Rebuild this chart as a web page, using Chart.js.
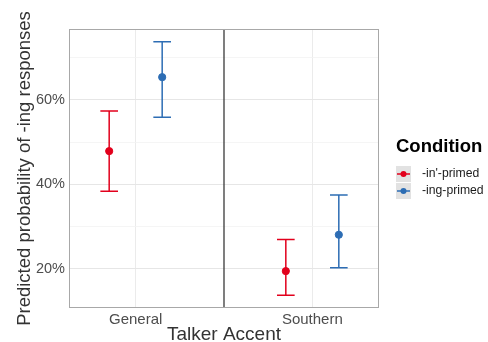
<!DOCTYPE html>
<html>
<head>
<meta charset="utf-8">
<script src="https://cdn.jsdelivr.net/npm/chart.js@4"></script>
<style>
  html, body { margin: 0; padding: 0; background: #fff; }
  #wrap { width: 488px; height: 342px; }
</style>
</head>
<body>
<div id="wrap"><canvas id="pred-chart"></canvas></div>
<script>
// values (percent)
const categories = ['General', 'Southern'];
const conditions = ["-in'-primed", '-ing-primed'];
const inPrimed = [47.9, 19.5];
const inLow = [38.4, 13.8];
const inHigh = [57.4, 27.0];
const ingPrimed = [65.4, 28.1];
const ingLow = [55.9, 20.3];
const ingHigh = [73.8, 37.5];
const yTicks = [20, 30, 40, 50, 60, 70];
const yLabelled = [20, 40, 60];
const dividerAt = 1.5;

const colors = ['#E2001C', '#2D6DB4'];
const dodge = 0.15;

function points(vals, lo, hi, off) {
    return vals.map((v, i) => ({ x: i + 1 + off, y: v, lo: lo[i], hi: hi[i] }));
}

const errorBars = {
    id: 'errorBars',
    beforeDatasetsDraw(chart) {
        const ctx = chart.ctx, xs = chart.scales.x, ys = chart.scales.y;
        const area = chart.chartArea;
        // vertical divider between the accents
        ctx.save();
        ctx.strokeStyle = '#3a3a3a';
        ctx.lineWidth = 1.3;
        const vx = xs.getPixelForValue(dividerAt);
        ctx.beginPath();
        ctx.moveTo(vx, area.top);
        ctx.lineTo(vx, area.bottom);
        ctx.stroke();
        chart.data.datasets.forEach(ds => {
            ctx.strokeStyle = ds.borderColor;
            ctx.lineWidth = 1.5;
            ds.data.forEach(p => {
                const px = xs.getPixelForValue(p.x);
                const cap = xs.getPixelForValue(p.x + 0.05) - px;
                const yl = ys.getPixelForValue(p.lo), yh = ys.getPixelForValue(p.hi);
                ctx.beginPath();
                ctx.moveTo(px, yl); ctx.lineTo(px, yh);
                ctx.moveTo(px - cap, yl); ctx.lineTo(px + cap, yl);
                ctx.moveTo(px - cap, yh); ctx.lineTo(px + cap, yh);
                ctx.stroke();
            });
        });
        ctx.restore();
    },
    afterDraw(chart) {
        const ctx = chart.ctx, area = chart.chartArea;
        ctx.save();
        // panel border
        ctx.strokeStyle = '#a8a8a8';
        ctx.lineWidth = 1;
        ctx.strokeRect(area.left + 0.5, area.top + 0.5, area.right - area.left - 1, area.bottom - area.top - 1);
        // legend
        ctx.fillStyle = '#000';
        ctx.font = 'bold 18.5px "Liberation Sans", Arial, sans-serif';
        ctx.textBaseline = 'middle';
        ctx.textAlign = 'left';
        ctx.fillText('Condition', 396, 147);
        chart.data.datasets.forEach((ds, i) => {
            const top = 166 + i * 17;
            ctx.fillStyle = '#e2e2e2';
            ctx.fillRect(396, top, 15, 16);
            ctx.strokeStyle = ds.borderColor;
            ctx.lineWidth = 1.5;
            ctx.beginPath();
            ctx.moveTo(397, top + 8); ctx.lineTo(410, top + 8);
            ctx.stroke();
            ctx.fillStyle = ds.backgroundColor;
            ctx.beginPath();
            ctx.arc(403.5, top + 8, 3, 0, Math.PI * 2);
            ctx.fill();
            ctx.fillStyle = '#1a1a1a';
            ctx.font = '12.2px "Liberation Sans", Arial, sans-serif';
            ctx.fillText(ds.label, 422, top + 8);
        });
        ctx.restore();
    }
};

new Chart(document.getElementById('pred-chart'), {
    type: 'scatter',
    data: {
        datasets: [{
            label: conditions[0],
            data: points(inPrimed, inLow, inHigh, -dodge),
            borderColor: colors[0],
            backgroundColor: colors[0],
            pointRadius: 3.6,
            pointHoverRadius: 3.6
        }, {
            label: conditions[1],
            data: points(ingPrimed, ingLow, ingHigh, dodge),
            borderColor: colors[1],
            backgroundColor: colors[1],
            pointRadius: 3.6,
            pointHoverRadius: 3.6
        }]
    },
    options: {
        responsive: true,
        maintainAspectRatio: false,
        animation: false,
        layout: { padding: { left: 0, top: 29, right: 109, bottom: 0 } },
        plugins: {
            legend: { display: false },
            tooltip: { enabled: false }
        },
        scales: {
            x: {
                type: 'linear',
                min: 0.6225,
                max: 2.3775,
                afterBuildTicks: s => { s.ticks = categories.map((c, i) => ({ value: i + 1 })); },
                afterFit: s => { s.height = 34; },
                grid: { color: '#ebebeb', lineWidth: 1, drawTicks: false },
                border: { display: false },
                ticks: {
                    padding: 3,
                    color: '#4d4d4d',
                    font: { size: 15, family: '"Liberation Sans", Arial, sans-serif' },
                    callback: v => categories[Math.round(v) - 1]
                },
                title: {
                    display: true,
                    text: 'Talker Accent',
                    color: '#333',
                    padding: 0,
                    font: { size: 19, lineHeight: 0.75, family: '"Liberation Sans", Arial, sans-serif' }
                }
            },
            y: {
                min: 10.77,
                max: 76.8,
                afterBuildTicks: s => { s.ticks = yTicks.map(v => ({ value: v })); },
                afterFit: s => { s.width = 69; },
                grid: {
                    drawTicks: false,
                    color: c => yLabelled.includes(c.tick.value) ? '#e6e6e6' : '#f3f3f3',
                    lineWidth: c => yLabelled.includes(c.tick.value) ? 1.1 : 0.8
                },
                border: { display: false },
                ticks: {
                    padding: 4,
                    color: '#4d4d4d',
                    font: { size: 14.5, family: '"Liberation Sans", Arial, sans-serif' },
                    callback: v => yLabelled.includes(v) ? v + '%' : ''
                },
                title: {
                    display: true,
                    text: 'Predicted probability of -ing responses',
                    color: '#333',
                    padding: { top: 14, bottom: 0 },
                    font: { size: 18.5, family: '"Liberation Sans", Arial, sans-serif' }
                }
            }
        }
    },
    plugins: [errorBars]
});
</script>
</body>
</html>
